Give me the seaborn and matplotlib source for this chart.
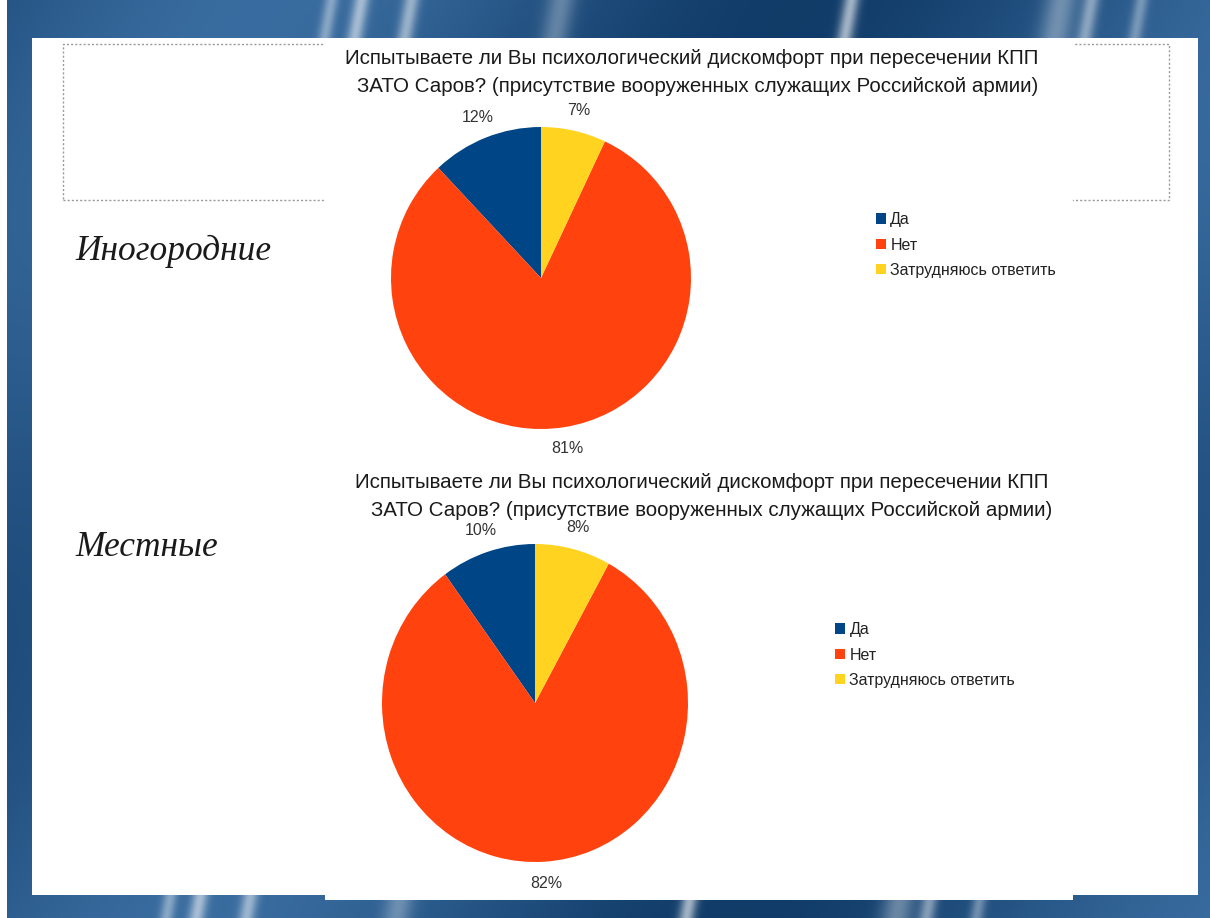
import numpy as np
import matplotlib
matplotlib.use("Agg")
import matplotlib.pyplot as plt
from matplotlib.patches import Rectangle, Patch
import seaborn as sns

# ---------------- data ----------------
categories = ["Да", "Нет", "Затрудняюсь ответить"]
inogorodnie = [12, 81, 7]
mestnye = [10, 82, 8]
group_labels = ["Иногородние", "Местные"]
title_line1 = "Испытываете ли Вы психологический дискомфорт при пересечении КПП"
title_line2 = "ЗАТО Саров? (присутствие вооруженных служащих Российской армии)"

sns.set_theme(style="white")
plt.rcParams["font.family"] = ["Liberation Sans", "DejaVu Sans"]
colors = sns.color_palette(["#004586", "#ff420e", "#ffd320"])

W, H = 1210, 918
fig = plt.figure(figsize=(W / 100, H / 100), dpi=100)


def fx(x):
    return x / W


def fy(y):
    return 1 - y / H


# ---------------- background (slide) ----------------
yy, xx = np.mgrid[0:H, 0:W].astype(float)
base_dark = np.array([0x0c, 0x36, 0x62]) / 255
base_light = np.array([0x3e, 0x72, 0xa6]) / 255
t = 0.5 + 0.4 * np.sin(xx / 170.0 + yy / 260.0) * np.cos(yy / 300.0)
t = np.clip(t, 0, 1)
img = base_dark[None, None, :] * (1 - t[..., None]) + base_light[None, None, :] * t[..., None]
for c, w, s in [(280, 8, 0.55), (480, 14, 0.3), (770, 8, 0.6), (980, 16, 0.35),
                (250, 7, 0.4), (330, 8, 0.5), (1010, 8, 0.45), (1060, 7, 0.35)]:
    d = (xx + 0.18 * (yy - 450)) - c
    img = img + s * np.exp(-(d / w) ** 2)[..., None] * (1 - img)
img = np.clip(img, 0, 1)
ax_bg = fig.add_axes([0, 0, 1, 1], zorder=-10)
ax_bg.imshow(img, aspect="auto", extent=[0, 1, 0, 1])
ax_bg.set_axis_off()

# left white strip
fig.add_artist(Rectangle((0, 0), fx(7), 1, transform=fig.transFigure,
                         facecolor="white", edgecolor="none", zorder=-6))
# white panel
fig.add_artist(Rectangle((fx(32), fy(895)), fx(1198 - 32), (895 - 38) / H,
                         transform=fig.transFigure, facecolor="white",
                         edgecolor="none", zorder=-5))
# dotted placeholder box
fig.add_artist(Rectangle((fx(63), fy(200)), fx(1169 - 63), (200 - 44) / H,
                         transform=fig.transFigure, facecolor="none",
                         edgecolor="#9a9a9a", linestyle=(0, (1.5, 1.5)),
                         linewidth=1.0, zorder=-4))
# chart area (white)
fig.add_artist(Rectangle((fx(325), fy(900)), fx(1073 - 325), (900 - 40) / H,
                         transform=fig.transFigure, facecolor="white",
                         edgecolor="none", zorder=-3))

# ---------------- pies ----------------
def draw_pie(values, cx, cy, rx, ry, title_y, title_cx, legend_x, legend_cy, lbl_y, lbl):
    ax = fig.add_axes([fx(cx - rx), fy(cy + ry), 2 * rx / W, 2 * ry / H])
    wedges, _, autotexts = ax.pie(values, colors=colors, startangle=90,
                                  counterclock=True, autopct="%.0f%%",
                                  pctdistance=1.14,
                                  wedgeprops=dict(linewidth=0, edgecolor="none"),
                                  textprops=dict(fontsize=11.5, color="#333333"))
    ax.set_xlim(-1, 1)
    ax.set_ylim(-1, 1)
    ax.set_aspect("auto")
    ax.set_facecolor("none")
    ax.set_axis_off()

    fig.text(fx(title_cx[0]), fy(title_y[0]), title_line1, ha="center", va="center",
             fontsize=14.8, color="#1a1a1a")
    fig.text(fx(title_cx[1]), fy(title_y[1]), title_line2, ha="center", va="center",
             fontsize=14.8, color="#1a1a1a")

    handles = [Patch(facecolor=c, edgecolor="none") for c in colors]
    fig.legend(handles, categories, loc="center left",
               bbox_to_anchor=(fx(legend_x), fy(legend_cy)),
               frameon=False, fontsize=11.5, handlelength=0.6, handleheight=0.6,
               handletextpad=0.3, labelspacing=0.65, borderpad=0, borderaxespad=0,
               labelcolor="#222222")

    fig.text(fx(75), fy(lbl_y), lbl, ha="left", va="center",
             fontsize=25.5, style="italic", family=["Liberation Serif", "DejaVu Serif"],
             color="#1a1a1a")


draw_pie(inogorodnie, 541, 278, 150, 151, (58, 87), (692, 698), 876, 245, 251, group_labels[0])
draw_pie(mestnye, 535, 703, 153, 159, (483, 510), (702, 712), 835, 655, 548, group_labels[1])

fig.savefig("out.png", dpi=100)
